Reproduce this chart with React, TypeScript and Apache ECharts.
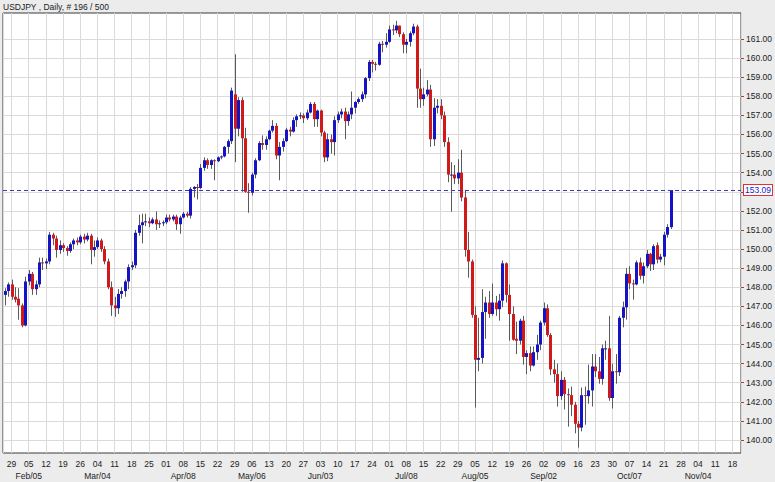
import React, { useEffect, useRef } from "react";
import * as echarts from "echarts";

// ---- Data: daily USDJPY candles, [open, high, low, close] ----
const jan = [
  [147.6, 147.95, 147.05, 147.8], [147.8, 148.25, 147.5, 148.15],
  [148.15, 148.4, 147.35, 147.5], [147.5, 148.0, 147.2, 147.35], [147.4, 147.95, 146.3, 147.05],
];
const feb = [
  [147.05, 147.15, 145.9, 146.0], [146.0, 148.55, 145.95, 148.3],
  [148.3, 148.9, 148.1, 148.7], [148.7, 148.8, 147.6, 147.9], [147.9, 148.35, 147.6, 148.15], [148.15, 149.55, 148.0, 149.3], [149.3, 149.55, 148.9, 149.25],
  [149.25, 149.5, 148.95, 149.35], [149.35, 150.9, 149.2, 150.75], [150.75, 150.85, 150.2, 150.55], [150.55, 150.7, 149.55, 149.95], [149.95, 150.45, 149.75, 150.2],
  [150.2, 150.3, 149.85, 150.05], [150.05, 150.15, 149.65, 149.9], [149.9, 150.35, 149.8, 150.25], [150.25, 150.55, 150.0, 150.45], [150.45, 150.6, 150.2, 150.35],
  [150.35, 150.75, 150.25, 150.65], [150.65, 150.8, 150.3, 150.5], [150.5, 150.85, 150.4, 150.7], [150.7, 150.8, 149.2, 149.95],
];
const mar = [
  [149.95, 150.45, 149.6, 150.1],
  [150.1, 150.6, 150.0, 150.45], [150.45, 150.55, 149.85, 150.0], [150.0, 150.15, 149.2, 149.35], [149.35, 149.5, 147.9, 148.0], [148.0, 148.3, 146.5, 147.05],
  [147.05, 147.5, 146.45, 146.9], [146.9, 147.9, 146.6, 147.65], [147.65, 148.0, 147.4, 147.8], [147.8, 148.4, 147.5, 148.3], [148.3, 149.2, 147.9, 149.05],
  [149.05, 149.35, 148.9, 149.15], [149.15, 151.0, 149.0, 150.85], [150.85, 151.8, 150.7, 151.25], [151.25, 151.85, 150.3, 151.4], [151.4, 151.85, 151.2, 151.45],
  [151.45, 151.65, 151.15, 151.35], [151.35, 151.65, 151.3, 151.55], [151.55, 151.97, 151.0, 151.3], [151.3, 151.5, 151.1, 151.35], [151.35, 151.5, 151.2, 151.4],
];
const apr = [
  [151.4, 151.8, 151.3, 151.65], [151.65, 151.8, 151.45, 151.55], [151.55, 151.8, 151.45, 151.7], [151.7, 151.8, 151.0, 151.3], [151.3, 151.75, 150.8, 151.65],
  [151.65, 151.95, 151.6, 151.85], [151.85, 151.95, 151.65, 151.75], [151.75, 153.25, 151.6, 153.15], [153.15, 153.3, 152.7, 153.25], [153.25, 153.4, 152.6, 153.2],
  [153.2, 154.45, 153.15, 154.25], [154.25, 154.8, 154.1, 154.65], [154.65, 154.75, 154.2, 154.4], [154.4, 154.7, 154.2, 154.65], [154.65, 154.7, 153.6, 154.6],
  [154.6, 154.85, 154.55, 154.8], [154.8, 154.9, 154.7, 154.85], [154.85, 155.4, 154.8, 155.35], [155.35, 155.75, 155.0, 155.65], [155.65, 158.45, 155.5, 158.3],
  [158.1, 160.2, 154.55, 156.3], [156.3, 157.95, 155.9, 157.8],
];
const may = [
  [157.8, 157.95, 153.0, 155.8], [155.8, 156.35, 152.95, 153.0], [153.0, 153.45, 151.9, 152.95],
  [152.95, 154.0, 152.8, 153.9], [153.9, 154.75, 153.7, 154.65], [154.65, 155.65, 154.6, 155.55], [155.55, 155.95, 155.2, 155.45], [155.45, 155.9, 155.2, 155.75],
  [155.75, 156.25, 155.7, 156.2], [156.2, 156.75, 156.1, 156.45], [156.45, 156.6, 154.7, 154.9], [154.9, 155.6, 153.6, 155.35], [155.35, 155.8, 155.1, 155.65],
  [155.65, 156.35, 155.6, 156.25], [156.25, 156.4, 155.9, 156.15], [156.15, 156.9, 156.1, 156.75], [156.75, 157.05, 156.4, 156.95], [156.95, 157.15, 156.8, 157.0],
  [157.0, 157.1, 156.6, 156.85], [156.85, 157.3, 156.75, 157.15], [157.15, 157.7, 157.1, 157.6], [157.6, 157.7, 156.4, 156.8], [156.8, 157.3, 156.4, 157.25],
];
const jun = [
  [157.25, 157.3, 155.9, 156.1], [156.1, 156.2, 154.55, 154.8], [154.8, 156.05, 154.6, 155.75], [155.75, 156.0, 155.0, 155.6], [155.6, 156.95, 154.9, 156.75],
  [156.75, 157.2, 156.6, 157.05], [157.05, 157.35, 156.85, 157.2], [157.2, 157.4, 155.75, 156.7], [156.7, 157.2, 156.45, 157.05], [157.05, 158.25, 156.8, 157.4],
  [157.4, 157.75, 157.1, 157.7], [157.7, 157.95, 157.6, 157.85], [157.85, 158.25, 157.7, 158.1], [158.1, 159.0, 157.9, 158.95], [158.95, 159.9, 158.8, 159.8],
  [159.8, 159.9, 159.25, 159.7], [159.7, 159.8, 159.35, 159.65], [159.65, 160.85, 159.6, 160.75], [160.75, 160.9, 160.3, 160.7], [160.7, 161.3, 160.55, 160.85],
];
const jul = [
  [160.85, 161.7, 160.8, 161.5], [161.5, 161.75, 161.2, 161.45], [161.45, 161.95, 161.3, 161.7], [161.7, 161.7, 161.1, 161.25], [161.25, 161.35, 160.25, 160.7],
  [160.7, 161.0, 160.25, 160.85], [160.85, 161.4, 160.6, 161.3], [161.3, 161.8, 161.2, 161.65], [161.65, 161.75, 157.4, 158.4], [158.4, 159.45, 157.4, 157.85],
  [157.85, 158.45, 157.5, 158.1], [158.1, 158.85, 158.0, 158.35], [158.35, 158.6, 155.35, 155.75], [155.75, 157.9, 155.4, 157.4], [157.4, 157.85, 157.1, 157.5],
  [157.5, 157.85, 156.8, 157.0], [157.0, 157.2, 155.35, 155.6], [155.6, 155.85, 153.5, 153.9], [153.9, 154.55, 151.95, 153.9], [153.9, 154.4, 153.4, 153.7],
  [153.7, 154.7, 153.4, 154.0], [154.0, 155.2, 152.5, 152.7], [152.7, 153.1, 149.6, 149.95],
];
const aug = [
  [149.95, 150.9, 148.5, 149.35], [149.35, 149.45, 146.4, 146.55],
  [146.55, 147.0, 141.7, 144.2], [144.2, 146.4, 143.6, 144.3], [144.3, 147.9, 144.0, 146.7], [146.7, 147.5, 145.3, 147.2], [147.2, 147.8, 146.4, 146.6],
  [146.6, 148.2, 146.5, 147.2], [147.2, 147.55, 146.5, 146.85], [146.85, 147.65, 146.25, 147.3], [147.3, 149.4, 146.95, 149.25], [149.25, 149.3, 147.2, 147.6],
  [147.6, 148.15, 145.2, 146.6], [146.6, 147.0, 145.2, 145.25], [145.3, 146.2, 144.5, 145.2], [145.2, 146.35, 145.0, 146.25], [146.25, 146.5, 143.95, 144.35],
  [144.35, 144.7, 143.45, 144.55], [144.55, 144.9, 143.6, 143.9], [143.9, 144.9, 143.85, 144.6], [144.6, 145.5, 144.2, 145.0], [145.0, 146.25, 144.7, 146.15],
];
const sep = [
  [146.15, 147.2, 146.0, 146.9], [146.9, 147.1, 145.4, 145.5], [145.5, 145.6, 143.4, 143.7], [143.7, 144.2, 143.0, 143.45], [143.45, 144.0, 141.75, 142.3],
  [142.3, 143.6, 142.1, 143.15], [143.15, 143.3, 141.6, 142.4], [142.4, 142.7, 140.7, 142.35], [142.35, 142.8, 141.25, 141.85], [141.85, 142.0, 140.35, 140.85],
  [140.85, 141.0, 139.6, 140.65], [140.65, 142.75, 140.45, 142.35], [142.35, 142.8, 140.8, 142.3], [142.3, 143.95, 141.9, 142.6], [142.6, 144.5, 141.75, 143.85],
  [143.85, 144.5, 143.3, 143.6], [143.6, 144.35, 142.95, 143.2], [143.2, 145.0, 142.9, 144.8], [144.8, 145.2, 144.2, 144.8], [144.8, 146.5, 142.05, 142.2],
  [142.2, 144.0, 141.65, 143.6],
];
const oct = [
  [143.6, 144.5, 142.95, 143.55], [143.55, 146.5, 143.35, 146.4], [146.4, 147.25, 145.9, 146.95], [146.95, 149.0, 146.3, 148.7],
  [148.7, 149.1, 147.9, 148.2], [148.2, 148.4, 147.35, 148.15], [148.15, 149.4, 148.1, 149.3], [149.3, 149.55, 148.4, 148.6], [148.6, 149.3, 148.2, 149.1],
  [149.1, 149.95, 149.0, 149.75], [149.75, 149.8, 148.85, 149.2], [149.2, 150.25, 148.9, 150.15], [150.2, 150.35, 149.25, 149.45], [149.45, 149.75, 149.3, 149.6],
  [149.6, 150.9, 149.15, 150.75], [150.75, 151.3, 150.6, 151.15], [151.15, 153.09, 151.05, 153.09],
];

const firstDay = "2024-01-25"; // first weekday shown
const dayCount = 215; // weekdays on the time axis (to 2024-11-20)
const mondayOffset = 2; // index of Mon 29 Jan
const monthLabelDays = ["2024-02-05", "2024-03-04", "2024-04-08", "2024-05-06", "2024-06-03", "2024-07-08", "2024-08-05", "2024-09-02", "2024-10-07", "2024-11-04"];
const priceTicks = [140, 141, 142, 143, 144, 145, 146, 147, 148, 149, 150, 151, 152, 153, 154, 155, 156, 157, 158, 159, 160, 161];
const lastPrice = 153.09;
const hiddenPriceLabels = [153]; // covered by the last-price box
const title = "USDJPY , Daily, # 196 / 500";

const MONTHS = ["Jan", "Feb", "Mar", "Apr", "May", "Jun", "Jul", "Aug", "Sep", "Oct", "Nov", "Dec"];

function buildDays(): Date[] {
  const out: Date[] = [];
  const d = new Date(firstDay + "T00:00:00Z");
  while (out.length < dayCount) {
    const wd = d.getUTCDay();
    if (wd !== 0 && wd !== 6) out.push(new Date(d.getTime()));
    d.setUTCDate(d.getUTCDate() + 1);
  }
  return out;
}

const FONT = "'Liberation Sans', Arial, sans-serif";
const FS = 8.5;
const BLUE = "#1414c4";
const RED = "#d01a1a";

export default function App() {
  const ref = useRef<HTMLDivElement>(null);
  useEffect(() => {
    if (!ref.current) return;
    const chart = echarts.init(ref.current, undefined, { renderer: "svg" });
    const days = buildDays();
    const iso = (d: Date) => d.toISOString().slice(0, 10);
    const candles = [...jan, ...feb, ...mar, ...apr, ...may, ...jun, ...jul, ...aug, ...sep, ...oct];
    const data = candles.map((c, i) => [i - mondayOffset, c[0], c[3], c[2], c[1]]);
    const pad2 = (n: number) => (n < 10 ? "0" + n : "" + n);

    chart.setOption({
      animation: false,
      backgroundColor: "#ececec",
      title: {
        text: title,
        left: 3,
        top: 1,
        padding: 0,
        textStyle: { fontSize: FS, fontWeight: "normal", color: "#222", fontFamily: FONT, lineHeight: 11 },
      },
      grid: {
        left: 3,
        right: 32,
        top: 13,
        bottom: 29,
        show: true,
        backgroundColor: "#ffffff",
        borderColor: "#3a3a3a",
        borderWidth: 1,
      },
      xAxis: {
        type: "value",
        position: "bottom",
        min: -mondayOffset - 0.5,
        max: dayCount - mondayOffset - 0.5,
        splitNumber: dayCount / 5,
        minInterval: 5,
        maxInterval: 5,
        axisLine: { show: false, onZero: false },
        axisTick: { show: false },
        splitLine: { show: true, lineStyle: { color: "#dadada", width: 1 } },
        axisLabel: {
          show: true,
          margin: 5,
          fontSize: FS,
          lineHeight: 12,
          color: "#222",
          fontFamily: FONT,
          showMinLabel: false,
          showMaxLabel: false,
          formatter: (v: number) => {
            if (Math.abs(v - Math.round(v)) > 1e-6 || Math.round(v) % 5 !== 0) return "";
            const d = days[Math.round(v) + mondayOffset];
            if (!d) return "";
            const dd = pad2(d.getUTCDate());
            if (monthLabelDays.indexOf(iso(d)) >= 0) return dd + "\n" + MONTHS[d.getUTCMonth()] + "/" + dd;
            return dd;
          },
        },
      },
      yAxis: {
        type: "value",
        position: "right",
        min: 139.32,
        max: 162.36,
        splitNumber: 23,
        minInterval: 1,
        maxInterval: 1,
        axisLine: { show: false, onZero: false },
        axisTick: { show: true, length: 3, customValues: priceTicks, lineStyle: { color: "#a04040" } },
        splitLine: { show: true, lineStyle: { color: "#dadada", width: 1 } },
        axisLabel: {
          margin: 5,
          fontSize: FS,
          color: "#222",
          fontFamily: FONT,
          showMinLabel: false,
          showMaxLabel: false,
          formatter: (v: number) => {
            const r = Math.round(v);
            if (Math.abs(v - r) > 1e-6 || r < 140 || r > 161) return "";
            if (hiddenPriceLabels.indexOf(r) >= 0) return "";
            return v.toFixed(2);
          },
        },
      },
      series: [
        {
          type: "custom",
          data,
          encode: { x: 0, y: [1, 2, 3, 4] },
          clip: true,
          renderItem: (params: any, api: any) => {
            const x = api.value(0);
            const o = api.value(1);
            const c = api.value(2);
            const l = api.value(3);
            const h = api.value(4);
            const px = api.coord([x, o])[0];
            const yO = api.coord([x, o])[1];
            const yC = api.coord([x, c])[1];
            const yL = api.coord([x, l])[1];
            const yH = api.coord([x, h])[1];
            const cx = Math.round(px) + 0.5;
            const top = Math.min(yO, yC);
            const bot = Math.max(yO, yC);
            const up = c >= o;
            return {
              type: "group",
              children: [
                { type: "line", shape: { x1: cx, y1: yH, x2: cx, y2: yL }, style: { stroke: "#5a5a5a", lineWidth: 1 } },
                {
                  type: "rect",
                  shape: { x: cx - 1.5, y: top, width: 3, height: Math.max(bot - top, 1) },
                  style: { fill: up ? BLUE : RED },
                },
              ],
            };
          },
          markLine: {
            silent: true,
            symbol: ["none", "none"],
            animation: false,
            lineStyle: { color: "#3a3ab8", type: [4, 3], width: 1 },
            label: {
              show: true,
              position: "end",
              distance: 3,
              formatter: lastPrice.toFixed(2),
              color: "#2020d0",
              backgroundColor: "#ffffff",
              borderColor: "#e03030",
              borderWidth: 1,
              padding: [1, 1, 0, 1],
              fontSize: FS,
              fontFamily: FONT,
            },
            data: [{ yAxis: lastPrice }],
          },
        },
      ],
    });
    return () => chart.dispose();
  }, []);
  return <div ref={ref} style={{ position: "absolute", left: 0, top: 0, width: 775, height: 482 }} />;
}
